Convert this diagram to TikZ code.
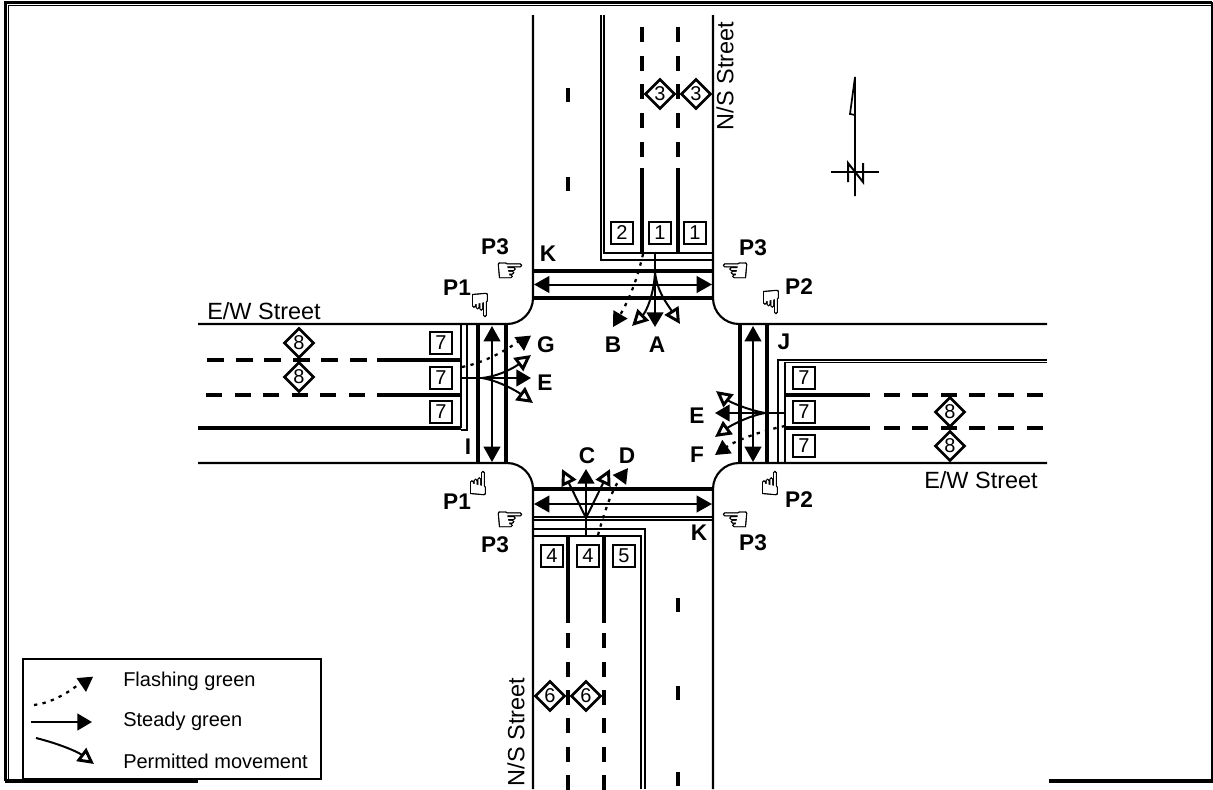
\documentclass[tikz,border=0pt]{standalone}
\usepackage{fontspec}
\setmainfont{Liberation Sans}
\newfontfamily\handfont[FakeBold=1.2]{DejaVu Sans}
\usetikzlibrary{arrows.meta,shapes.geometric}

\begin{document}
\begin{tikzpicture}[x=0.75pt,y=-0.75pt,
    road/.style={line width=1.6pt},
    lane/.style={line width=2.8pt},
    bar/.style={line width=3pt},
    thin/.style={line width=1.2pt},
    steady/.style={line width=1.8pt,-{Triangle[length=11pt,width=12.5pt]}},
    permit/.style={line width=1.5pt,-{Triangle[open,length=12pt,width=12pt,line width=2.2pt]}},
    flash/.style={line width=1.7pt,dash pattern=on 2.5pt off 4pt,-{Triangle[length=11pt,width=12pt]}},
    walk/.style={line width=1.5pt,{Triangle[length=11.5pt,width=12.5pt]}-{Triangle[length=11.5pt,width=12.5pt]}},
    sigbox/.style={draw,line width=2pt,minimum size=16.5pt,inner sep=0pt,font=\fontsize{15}{16}\selectfont},
    sign/.style={draw,diamond,fill=white,line width=2pt,minimum size=22.5pt,inner sep=0pt,font=\fontsize{15}{16}\selectfont},
    lbl/.style={font=\fontsize{17}{18}\selectfont\bfseries,inner sep=0pt},
    street/.style={font=\fontsize{17.6}{18}\selectfont,inner sep=0pt},
    legtext/.style={font=\fontsize{15}{16}\selectfont,inner sep=0pt,anchor=west},
    hand/.style={font=\fontsize{25}{26}\handfont,inner sep=0pt}]
  \useasboundingbox (0,0) rectangle (1213,789);
  % Frame
  \draw[line width=1.6pt] (1212,2.5) -- (4,2.5);
  \draw[line width=2.4pt] (5.5,1.5) -- (5.5,781);
  \draw[line width=1.1pt] (1212,5.5) -- (8.5,5.5) -- (8.5,781);
  \draw[line width=1.1pt] (1212,2) -- (1212,781);
  \draw[bar] (5,781) -- (198,781);
  \draw[bar] (1049,781) -- (1213,781);
  % Curbs
  \draw[road] (533,15) -- (533,298) arc[start angle=0,end angle=90,radius=26] -- (198,324);
  \draw[road] (713,15) -- (713,298) arc[start angle=180,end angle=90,radius=26] -- (1047,324);
  \draw[road] (198,463) -- (507,463) arc[start angle=-90,end angle=0,radius=26] -- (533,789);
  \draw[road] (1047,463) -- (739,463) arc[start angle=-90,end angle=-180,radius=26] -- (713,789);
  % North approach
  \draw[thin] (601,15) -- (601,260) -- (713,260);
  \draw[thin] (604,15) -- (604,253) -- (713,253);
  \draw[lane] (642,168) -- (642,253);
  \draw[lane] (678,168) -- (678,253);
  \foreach \x in {642,678}
    \foreach \y in {27,56,84,113,142}
      \draw[lane] (\x,\y) -- (\x,\y+15);
  \foreach \y in {88,177}
    \draw[lane] (568,\y) -- (568,\y+14);
  \draw[bar] (533,270.5) -- (713,270.5);
  \draw[bar] (533,298) -- (713,298);
  \draw[walk] (534,284.5) -- (712,284.5);
  % South approach
  \draw[bar] (533,489) -- (713,489);
  \draw[thin] (533,517) -- (713,517);
  \draw[thin] (533,520) -- (713,520);
  \draw[walk] (534,504) -- (712,504);
  \draw[thin] (533,529) -- (645,529) -- (645,789);
  \draw[thin] (533,536) -- (641,536) -- (641,789);
  \draw[lane] (568,536) -- (568,623);
  \draw[lane] (604,536) -- (604,623);
  \foreach \x in {568,604}
    \foreach \y in {633,662,690,718,747,775}
      \draw[lane] (\x,\y) -- (\x,\y+15);
  \foreach \y in {598,686,772}
    \draw[lane] (678,\y) -- (678,\y+14);
  % West approach
  \draw[bar] (478,325) -- (478,463);
  \draw[bar] (506,325) -- (506,463);
  \draw[walk] (492,326) -- (492,462);
  \draw[thin] (461,325) -- (461,428);
  \draw[thin] (467,325) -- (467,430) -- (461,430);
  \draw[bar] (198,428) -- (461,428);
  \draw[lane] (377,360) -- (461,360);
  \draw[lane] (377,395) -- (461,395);
  \foreach \x in {207,236,264,293,321,350}
    \draw[lane] (\x,360) -- (\x+17,360);
  \foreach \x in {206,235,263,292,320,349}
    \draw[lane] (\x,395) -- (\x+16,395);
  % East approach
  \draw[bar] (740,325) -- (740,463);
  \draw[bar] (767,325) -- (767,463);
  \draw[walk] (753,326) -- (753,462);
  \draw[thin] (778,463) -- (778,360) -- (1047,360);
  \draw[thin] (785,463) -- (785,362.5) -- (1047,362.5);
  \draw[lane] (785,395) -- (870,395);
  \draw[lane] (785,428) -- (870,428);
  \foreach \x in {884,912,941,969,998,1027}
    \foreach \y in {395,428}
      \draw[lane] (\x,\y) -- (\x+16,\y);
  % Signal boxes
  \node[sigbox] (boxNa) at (622,233) {2};
  \node[sigbox] (boxNb) at (660,233) {1};
  \node[sigbox] (boxNc) at (695,233) {1};
  \node[sigbox] (boxSa) at (552,556) {4};
  \node[sigbox] (boxSb) at (588,556) {4};
  \node[sigbox] (boxSc) at (624,556) {5};
  \node[sigbox] (boxWa) at (441,343) {7};
  \node[sigbox] (boxWb) at (441,378) {7};
  \node[sigbox] (boxWc) at (441,412) {7};
  \node[sigbox] (boxEa) at (804,378) {7};
  \node[sigbox] (boxEb) at (804,412) {7};
  \node[sigbox] (boxEc) at (804,446) {7};
  % Signs
  \node[sign] (signNa) at (660,94) {3};
  \node[sign] (signNb) at (696,94) {3};
  \node[sign] (signSa) at (550,696) {6};
  \node[sign] (signSb) at (586,696) {6};
  \node[sign] (signWa) at (299,343) {8};
  \node[sign] (signWb) at (299,377) {8};
  \node[sign] (signEa) at (950,412) {8};
  \node[sign] (signEb) at (950,446) {8};
  % Movements north
  \draw[steady] (655,253) -- (655,327);
  \draw[permit] (655,272) .. controls (654,295) and (646,312) .. (632,326);
  \draw[permit] (655,272) .. controls (657,292) and (668,305) .. (680,324);
  \draw[flash] (643,254) .. controls (636,285) and (626,305) .. (613,327);
  % Movements south
  \draw[steady] (586,536) -- (586,469);
  \draw[permit] (586,518) -- (562,469);
  \draw[permit] (586,518) -- (610,469);
  \draw[flash] (598,535) .. controls (605,510) and (612,490) .. (628,468);
  % Movements west
  \draw[steady] (461,378) -- (531,378);
  \draw[permit] (482,378) .. controls (500,376) and (515,367) .. (531,355);
  \draw[permit] (482,378) .. controls (500,381) and (518,392) .. (533,403);
  \draw[flash] (462,367) .. controls (490,362) and (523,340) .. (524,351);
  % Movements east
  \draw[steady] (785,413) -- (715,413);
  \draw[permit] (765,413) .. controls (748,410) and (730,402) .. (716,391);
  \draw[permit] (765,413) .. controls (748,416) and (730,426) .. (715,437);
  \draw[flash] (785,426) .. controls (760,431) and (735,441) .. (715,455);
  % Labels
  \node[lbl] (lblA) at (657,345) {A};
  \node[lbl] (lblB) at (613,345) {B};
  \node[lbl] (lblC) at (587,456) {C};
  \node[lbl] (lblD) at (627,456) {D};
  \node[lbl] (lblEw) at (545,383) {E};
  \node[lbl] (lblEe) at (697,416) {E};
  \node[lbl] (lblF) at (697,455) {F};
  \node[lbl] (lblG) at (546,345) {G};
  \node[lbl] (lblI) at (468,447) {I};
  \node[lbl] (lblJ) at (784,342) {J};
  \node[lbl] (lblKn) at (548,254) {K};
  \node[lbl] (lblKs) at (699,533) {K};
  \node[lbl] (lblPa) at (495,247) {P3};
  \node[lbl] (lblPb) at (753,248) {P3};
  \node[lbl] (lblPc) at (495,545) {P3};
  \node[lbl] (lblPd) at (753,543) {P3};
  \node[lbl] (lblPe) at (457,288) {P1};
  \node[lbl] (lblPf) at (457,502) {P1};
  \node[lbl] (lblPg) at (799,287) {P2};
  \node[lbl] (lblPh) at (799,500) {P2};
  % Hands
  \node[hand] (handA) at (510,272) {☞};
  \node[hand] (handB) at (735,272) {☜};
  \node[hand] (handC) at (510,521) {☞};
  \node[hand] (handD) at (735,521) {☜};
  \node[hand] (handE) at (480,305) {☟};
  \node[hand] (handF) at (771,302) {☟};
  \node[hand] (handG) at (478,483) {☝};
  \node[hand] (handH) at (770,483) {☝};
  % Street names
  \node[street] (ewTop) at (264,311) {E/W Street};
  \node[street] (ewBot) at (981,480) {E/W Street};
  \node[street,rotate=90] (nsTop) at (725,76) {N/S Street};
  \node[street,rotate=90] (nsBot) at (516,732) {N/S Street};
  % North mark
  \draw[line width=1.3pt] (855,196) -- (855,77) -- (850,114) -- (855,115);
  \draw[line width=1.3pt] (831,172) -- (879,172);
  \draw[line width=1.5pt] (848,182) -- (848,163) -- (863,182) -- (863,163);
  % Legend
  \draw[fill=white,line width=1.2pt] (23,659) rectangle (321,779);
  \draw[flash] (34,705) .. controls (60,702) and (85,680) .. (86,692);
  \draw[steady] (31,722) -- (92,722);
  \draw[permit] (36,738) .. controls (60,744) and (78,752) .. (94,764);
  \node[legtext] (legFlash) at (123,681) {Flashing green};
  \node[legtext] (legSteady) at (123,721) {Steady green};
  \node[legtext] (legPermit) at (123,761) {Permitted movement};
\end{tikzpicture}
\end{document}
